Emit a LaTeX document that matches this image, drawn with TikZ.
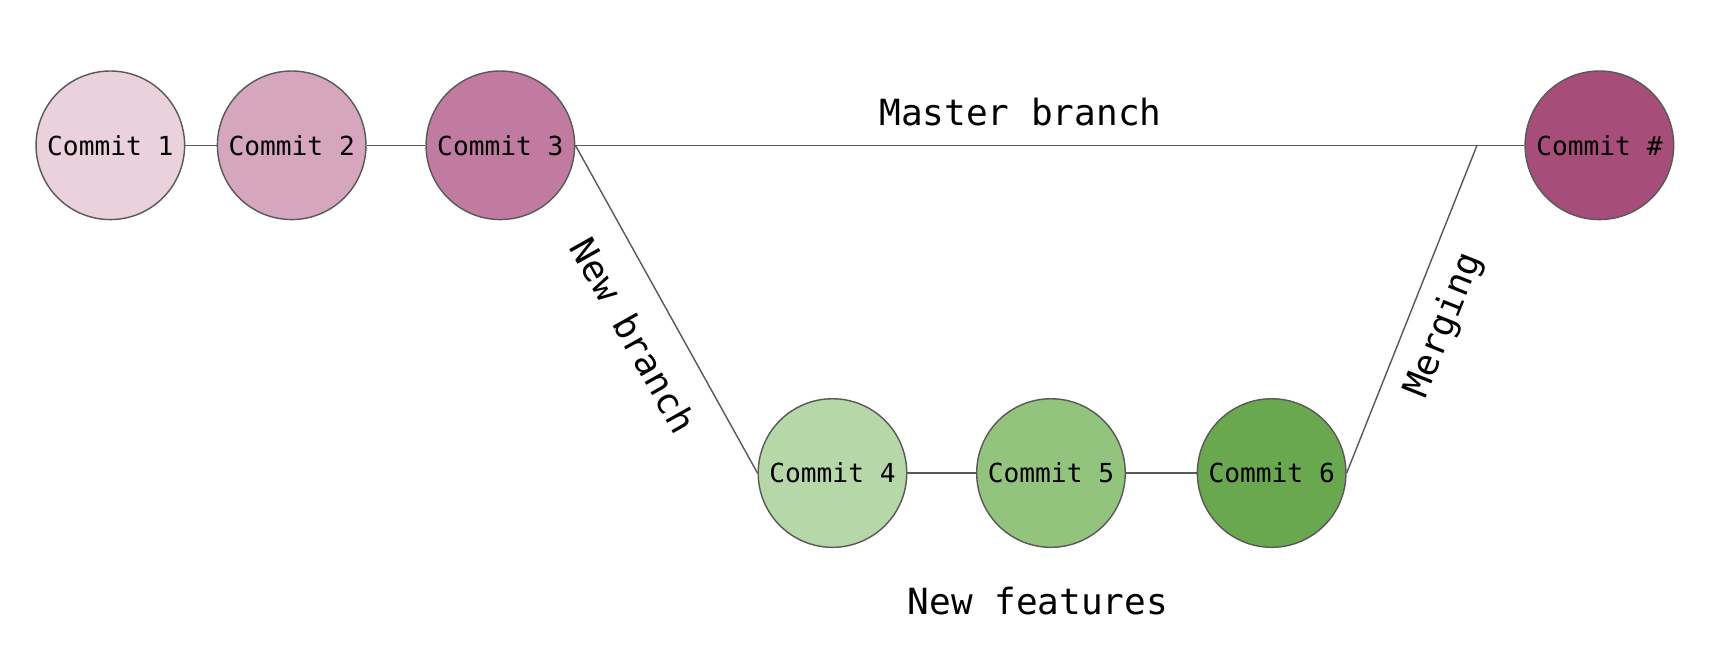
\documentclass[tikz,border=0pt]{standalone}
\usepackage{fontspec}
\setmonofont{DejaVu Sans Mono}
\definecolor{p1}{HTML}{EAD1DC}
\definecolor{p2}{HTML}{D5A6BD}
\definecolor{p3}{HTML}{C27BA0}
\definecolor{p4}{HTML}{A64D79}
\definecolor{g1}{HTML}{B6D7A8}
\definecolor{g2}{HTML}{93C47D}
\definecolor{g3}{HTML}{6AA84F}
\definecolor{edge}{HTML}{595959}
\begin{document}
\begin{tikzpicture}[x=1pt,y=1pt,
  commit/.style={circle,draw=edge,line width=1.3pt,minimum size=136pt,inner sep=0pt,
    font=\ttfamily\fontsize{24}{28}\selectfont},
  link/.style={draw=edge,line width=1.3pt},
  lbl/.style={font=\ttfamily\fontsize{33}{38}\selectfont,inner sep=0pt}]
\useasboundingbox (0,0) rectangle (1568,593);
\node[commit,fill=p1] (c1) at (101,460) {Commit 1};
\node[commit,fill=p2] (c2) at (267,460) {Commit 2};
\node[commit,fill=p3] (c3) at (458,460) {Commit 3};
\node[commit,fill=p4] (cm) at (1464,460) {Commit \#};
\node[commit,fill=g1] (c4) at (762,160) {Commit 4};
\node[commit,fill=g2] (c5) at (962,160) {Commit 5};
\node[commit,fill=g3] (c6) at (1164,160) {Commit 6};
\coordinate (merge) at (1352,460);
\draw[link] (c1) -- (c2);
\draw[link] (c2) -- (c3);
\draw[link] (c3.east) -- (cm.west);
\draw[link] (c3.east) -- (c4.west);
\draw[link] (c4) -- (c5);
\draw[link] (c5) -- (c6);
\draw[link] (c6.east) -- (merge);
\node[lbl] (tm) at (934,490) {Master branch};
\node[lbl] (tf) at (950,43) {New features};
\node[lbl,rotate=-60.7] (tb) at (580,286) {New branch};
\node[lbl,rotate=68.2] (tg) at (1322,295) {Merging};
\end{tikzpicture}
\end{document}
